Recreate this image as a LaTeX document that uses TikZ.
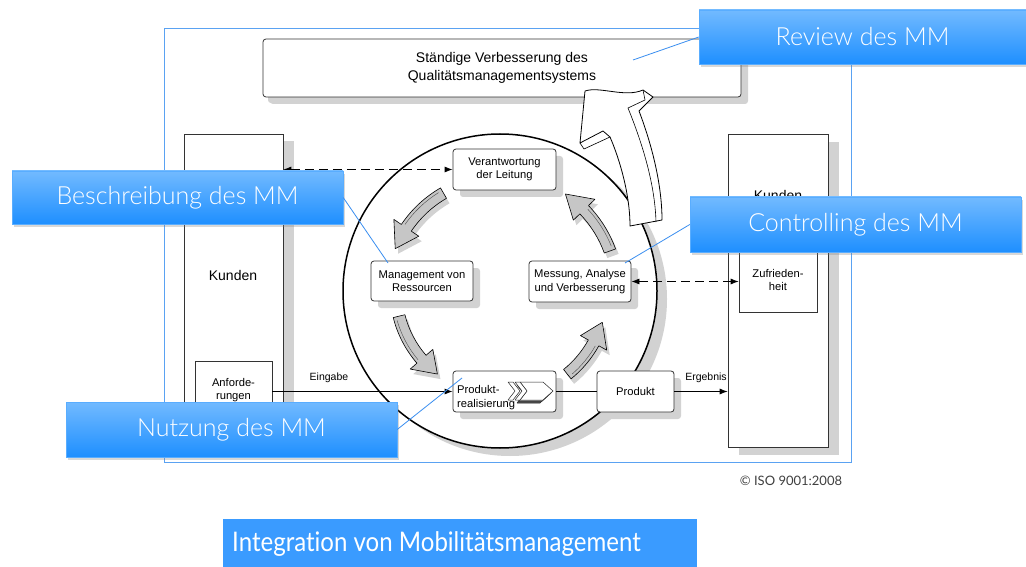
\documentclass[tikz,border=0pt]{standalone}
\usepackage{fontspec}
\usepackage{graphicx}
\setmainfont{Liberation Sans}
\newfontfamily\callfont{Lato Light}[Ligatures=NoCommon]
\newfontfamily\copyfont{Lato}[Ligatures=NoCommon]
\usetikzlibrary{shadows,arrows.meta}
\definecolor{frameblue}{HTML}{5AA2F2}
\definecolor{calltop}{HTML}{72BAFF}
\definecolor{callbot}{HTML}{1E8FFF}
\definecolor{titleblue}{HTML}{3A9BFF}
\definecolor{leaderblue}{HTML}{3A8EF0}
\definecolor{shadowgray}{HTML}{D2D2D2}
\definecolor{boxline}{HTML}{333333}
\newcommand\fatarw[3]{%
\begin{scope}[shift={(500,291)}]
\fill[shadowgray,shift={(3pt,-5pt)}] ({-#1}:{#3+6}) arc[start angle={-#1},end angle={-(#2-12)},radius={#3+6}] -- ({-(#2-12)}:{#3+15}) -- ({-#2}:{#3}) -- ({-(#2-12)}:{#3-15}) -- ({-(#2-12)}:{#3-6}) arc[start angle={-(#2-12)},end angle={-#1},radius={#3-6}] -- cycle;
\filldraw[fill=gray!45,draw=black,line width=0.6pt,line join=round] ({-#1}:{#3+6}) arc[start angle={-#1},end angle={-(#2-12)},radius={#3+6}] -- ({-(#2-12)}:{#3+15}) -- ({-#2}:{#3}) -- ({-(#2-12)}:{#3-15}) -- ({-(#2-12)}:{#3-6}) arc[start angle={-(#2-12)},end angle={-#1},radius={#3-6}] -- cycle;
\draw[line width=0.4pt,black!70] ({-(#1+2)}:{#3+3}) arc[start angle={-(#1+2)},end angle={-(#2-13)},radius={#3+3}];
\end{scope}}
\begin{document}
\begin{tikzpicture}[x=1pt,y=-1pt,
  box/.style={draw=boxline,fill=white,line width=0.8pt,rounded corners=3pt,align=center,inner sep=0pt,
    font=\fontsize{11.2}{13.5}\selectfont,
    general shadow={fill=shadowgray,shadow xshift=7pt,shadow yshift=-7pt}},
  sqbox/.style={draw=boxline,fill=white,line width=0.7pt,align=center,inner sep=0pt,
    font=\fontsize{11.2}{13.5}\selectfont},
  lbl/.style={inner sep=0pt,font=\fontsize{11.2}{13.5}\selectfont},
  dasharr/.style={dashed,dash pattern=on 9pt off 5pt,line width=0.8pt,{Latex[length=8pt,width=6pt]}-{Latex[length=8pt,width=6pt]}},
  solarr/.style={line width=0.8pt,-{Latex[length=8pt,width=6pt]}},
  callout/.style={draw=calltop!70!callbot,line width=0.4pt,top color=calltop,bottom color=callbot,
    text=white,font=\callfont\fontsize{25}{28}\selectfont,inner sep=0pt,
    drop shadow={shadow xshift=2pt,shadow yshift=-3pt,opacity=0.3}},
  leader/.style={draw=leaderblue,line width=0.8pt}]
\useasboundingbox (0,0) rectangle (1026,567);
\fill[white] (0,0) rectangle (1026,567);
% frame
\draw[frameblue,line width=0.9pt] (164,28) rectangle (851,462);
% top box
\node[box,minimum width=478pt,minimum height=58pt,general shadow={fill=shadowgray,shadow xshift=5pt,shadow yshift=-6pt},
  font=\fontsize{14}{18}\selectfont] (top) at (502,68) {Ständige Verbesserung des\\Qualitätsmanagementsystems};
% customer boxes
\node[sqbox,minimum width=99pt,minimum height=313pt,general shadow={fill=shadowgray,shadow xshift=11pt,shadow yshift=-7pt}] (kl) at (233.5,290.5) {};
\node[sqbox,minimum width=100pt,minimum height=313pt,general shadow={fill=shadowgray,shadow xshift=11pt,shadow yshift=-8pt}] (kr) at (778,290.5) {};
\node[lbl,font=\fontsize{14}{16}\selectfont] (klt) at (233,275) {Kunden};
\node[lbl,font=\fontsize{14}{16}\selectfont] (krt) at (778,195) {Kunden};
\node[sqbox,minimum width=77pt,minimum height=58pt] (anf) at (233.5,390) {Anforde-\\rungen};
\node[sqbox,minimum width=78pt,minimum height=64pt] (zuf) at (778,280) {Zufrieden-\\heit};
% circle
\fill[shadowgray] (510,299) circle[radius=157];
\fill[white] (500,291) circle[radius=157];
\draw[line width=1.5pt] (500,291) circle[radius=157];
% process boxes
\node[box,minimum width=103pt,minimum height=41pt] (ver) at (504.5,169.5) {Verantwortung\\der Leitung};
\node[box,minimum width=102pt,minimum height=40pt] (man) at (422,281) {Management von\\Ressourcen};
\node[box,minimum width=102pt,minimum height=41pt] (mes) at (580,281.5) {Messung, Analyse\\und Verbesserung};
\node[box,minimum width=103pt,minimum height=41pt] (pre) at (504.5,391.5) {};
\node[lbl,align=left,anchor=west] (pret) at (457,397.5) {Produkt-\\realisierung};
\node[box,minimum width=77pt,minimum height=41pt] (pro) at (635.5,391.5) {Produkt};
% chevron icon
\foreach \dx/\col in {-3/black!70,-1.5/black!40,0/white}{
  \filldraw[fill=\col,draw=black!85,line width=0.5pt,line join=round,shift={(\dx pt,\dx pt)}]
   (520,382) -- (543,382) -- (553,391) -- (543,400) -- (520,400) -- (527,391) -- cycle;}
\foreach \cx in {508,515}{
  \filldraw[fill=white,draw=black!85,line width=0.5pt,line join=round]
   (\cx,382) -- (\cx+5,382) -- (\cx+12,391) -- (\cx+5,400) -- (\cx,400) -- (\cx+7,391) -- cycle;}
% fat circular arrows
\fatarw{120}{158}{113}
\fatarw{194}{233}{104}
\fatarw{309}{343}{107}
\fatarw{20}{56}{117}
% big white arrow
\filldraw[fill=white,draw=black,line width=0.8pt,line join=round]
 (630,226) .. controls (630,195) and (620,160) .. (610,137) -- (603,131) -- (580,143) -- (585,91)
 .. controls (600,86) and (625,98) .. (643,90) -- (653,97) -- (639,111)
 .. controls (652,145) and (662,185) .. (662,220) -- cycle;
\draw[line width=0.6pt] (643,90) -- (645,100) -- (628,108) .. controls (643,145) and (655,185) .. (656,222);
\draw[line width=0.6pt] (580,143) -- (584,149) -- (610,137);
% connectors
\draw[dasharr] (ver.west -| kl.east) -- (ver.west);
\draw[dasharr] (mes.east) -- (mes.east -| zuf.west);
\draw[solarr] (anf.east |- pre.west) -- (pre.west);
\draw[line width=0.8pt] (pre.east) -- (pro.west);
\draw[solarr] (pro.east) -- (pro.east -| kr.west);
\node[lbl,font=\fontsize{10.5}{12}\selectfont] (eing) at (329,378) {Eingabe};
\node[lbl,font=\fontsize{10.5}{12}\selectfont] (erg) at (706,378) {Ergebnis};
% callouts
\coordinate (revtip) at (633,60);
\coordinate (beschtip) at (388,263);
\coordinate (contip) at (625,263);
\coordinate (nutztip) at (462,378);
\node[callout,minimum width=327pt,minimum height=54pt] (rev) at (862.5,37) {Review des MM};
\node[callout,minimum width=331pt,minimum height=53pt] (besch) at (177.5,197.5) {Beschreibung des MM};
\node[callout,minimum width=331pt,minimum height=55pt] (con) at (855.5,224.5) {Controlling des MM};
\node[callout,minimum width=331pt,minimum height=55pt] (nutz) at (231.5,429.5) {Nutzung des MM};
\draw[leader] (rev.west) -- (revtip);
\draw[leader] (besch.east) -- (beschtip);
\draw[leader] (con.west) -- (contip);
\draw[leader] (nutz.east) -- (nutztip);
% footer
\node[inner sep=0pt,text=black!75,font=\copyfont\fontsize{13}{15}\selectfont] (copy) at (791,481) {© ISO 9001:2008};
\node[fill=titleblue,minimum width=474pt,minimum height=48pt,inner sep=0pt] (titlebar) at (460,543) {};
\node[anchor=west,inner sep=0pt,text=white,font=\copyfont\fontsize{27}{32}\selectfont] (title) at (232,544) {\scalebox{0.89}[1]{Integration von Mobilitätsmanagement}};
\end{tikzpicture}
\end{document}
